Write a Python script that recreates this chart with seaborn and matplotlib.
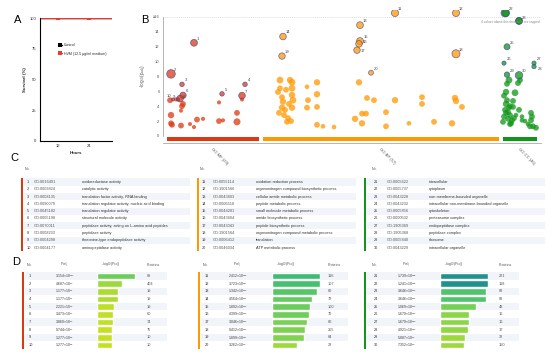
import numpy as np
import pandas as pd
import seaborn as sns
import matplotlib.pyplot as plt
from matplotlib.patches import Rectangle

sns.set_style("white")
plt.rcParams["font.family"] = ["Liberation Sans", "DejaVu Sans"]
plt.rcParams["mathtext.fontset"] = "custom"
plt.rcParams["mathtext.rm"] = "Liberation Sans"
plt.rcParams["mathtext.default"] = "regular"

W, H = 550, 355

# ---------------- data ----------------
# A: survival
hours = [0, 12, 24, 36]
control = [100, 100, 100, 100]
hvm = [100, 100, 100, 100]

# B: sources
sources = ["GO:MF", "GO:BP", "GO:CC"]
source_counts = [29, 57, 46]
source_colors = ["#dc3912", "#ff9900", "#109618"]
source_start = [4, 100, 340]
source_end = [96, 336, 374]

# highlighted terms (No. 1-30), x position on the manhattan axis
mf_hit_x = [31, 8, 19, 82, 59, 20, 79, 17, 15, 10]
bp_hit_x = [232, 293, 197, 120, 197, 196, 194, 293, 119, 208]
cc_hit_x = [342, 343, 356, 356, 344, 341, 371, 371, 344, 356]

# other terms: x, -log10(padj), term size
mf_x = [7, 8, 8, 19, 18, 18, 27, 31, 34, 40, 56, 56, 60, 74, 74, 79, 13, 20, 9]
mf_val = [4.8, 2.8, 1.7, 4.0, 3.4, 1.4, 1.6, 1.2, 2.2, 2.3, 4.5, 2.0, 2.1, 3.1, 1.9, 4.9, 4.9, 4.3, 1.5]
mf_n = [40, 60, 40, 40, 15, 40, 15, 15, 40, 15, 15, 40, 15, 40, 100, 15, 15, 40, 40]

bp_x = [117, 117, 127, 129, 129, 129, 130, 119, 120, 119, 122, 121, 129, 128, 144, 145, 144,
        154, 154, 154, 154, 160, 171, 196, 204, 211, 192, 199, 203, 199, 223, 223, 232, 246,
        259, 259, 271, 289, 292, 293, 299, 115, 123, 125, 116, 126, 124]
bp_val = [7.5, 6.4, 7.5, 7.2, 6.4, 5.5, 4.8, 5.2, 4.6, 3.8, 3.5, 2.8, 3.8, 2.0, 6.6, 4.8, 3.8,
          7.2, 5.6, 3.9, 1.5, 1.3, 1.2, 7.2, 5.1, 4.8, 2.3, 3.0, 3.0, 1.7, 3.2, 1.3, 4.8, 1.7,
          5.2, 4.3, 1.9, 1.7, 5.1, 4.7, 3.9, 5.9, 6.2, 2.4, 3.1, 4.3, 1.9]
bp_n = [80, 40, 60, 80, 80, 60, 80, 40, 60, 60, 40, 40, 60, 40, 20, 40, 40,
        60, 60, 40, 40, 20, 20, 60, 40, 40, 60, 40, 40, 60, 40, 40, 60, 20,
        40, 40, 40, 60, 60, 60, 40, 40, 40, 40, 40, 40, 40]

cc_x = [346, 344, 343, 352, 343, 347, 350, 342, 345, 347, 341, 345, 349, 351, 348, 353, 359,
        362, 368, 369, 368, 370, 365, 344, 346, 357, 355, 340, 347, 359, 367, 343, 356, 350,
        341, 373]
cc_val = [7.5, 7.0, 5.9, 5.8, 4.3, 4.0, 3.9, 3.5, 3.2, 2.8, 2.6, 2.3, 2.1, 2.4, 1.7, 2.8, 2.6,
          2.0, 3.1, 2.6, 2.1, 1.3, 1.6, 4.8, 3.8, 7.5, 7.1, 1.9, 1.6, 2.1, 1.3, 3.1, 3.5, 4.7,
          5.4, 1.1]
cc_n = [80, 40, 60, 80, 60, 40, 40, 40, 40, 40, 40, 40, 40, 40, 40, 20, 20,
        20, 40, 40, 40, 40, 20, 40, 40, 40, 40, 40, 40, 20, 40, 40, 40, 40,
        40, 40]

# C / D tables
nums1 = list(range(1, 11))
nums2 = list(range(11, 21))
nums3 = list(range(21, 31))
ids1 = ["GO:0016491", "GO:0003824", "GO:0008135", "GO:0090079", "GO:0045182",
        "GO:0005198", "GO:0070011", "GO:0008233", "GO:0004298", "GO:0004177"]
names1 = ["oxidoreductase activity", "catalytic activity",
          "translation factor activity, RNA binding",
          "translation regulator activity, nucleic acid binding",
          "translation regulator activity", "structural molecule activity",
          "peptidase activity, acting on L-amino acid peptides", "peptidase activity",
          "threonine-type endopeptidase activity", "aminopeptidase activity"]
ids2 = ["GO:0055114", "GO:1901566", "GO:0043603", "GO:0006518", "GO:0044281",
        "GO:0043604", "GO:0043043", "GO:1901564", "GO:0006412", "GO:0046034"]
names2 = ["oxidation-reduction process", "organonitrogen compound biosynthetic process",
          "cellular amide metabolic process", "peptide metabolic process",
          "small molecule metabolic process", "amide biosynthetic process",
          "peptide biosynthetic process", "organonitrogen compound metabolic process",
          "translation", "ATP metabolic process"]
ids3 = ["GO:0005622", "GO:0005737", "GO:0043228", "GO:0043232", "GO:0005856",
        "GO:0000502", "GO:1905369", "GO:1905368", "GO:0005840", "GO:0043229"]
names3 = ["intracellular", "cytoplasm", "non-membrane-bounded organelle",
          "intracellular non-membrane-bounded organelle", "cytoskeleton",
          "proteasome complex", "endopeptidase complex", "peptidase complex",
          "ribosome", "intracellular organelle"]
padj1 = [3.154e-13, 4.687e-9, 1.177e-7, 1.177e-7, 2.221e-6,
         3.473e-6, 3.860e-6, 9.744e-6, 1.277e-5, 1.277e-5]
padj2 = [2.412e-18, 3.723e-17, 1.342e-15, 4.564e-14, 1.892e-13,
         4.399e-13, 3.046e-12, 9.412e-12, 1.899e-11, 3.262e-9]
padj3 = [1.739e-28, 1.241e-28, 3.646e-16, 3.646e-16, 1.069e-12,
         1.679e-10, 1.679e-10, 4.921e-10, 5.887e-9, 7.352e-9]
prot1 = [89, 404, 19, 19, 19, 60, 74, 75, 10, 10]
prot2 = [116, 107, 80, 72, 100, 70, 66, 255, 64, 23]
prot3 = [221, 118, 83, 83, 48, 16, 16, 17, 32, 150]

CAP = 16

# ---------------- figure ----------------
fig = plt.figure(figsize=(5.5, 3.55), dpi=100)


def axes_px(x0, y0, x1, y1):
    return fig.add_axes([x0 / W, 1 - y1 / H, (x1 - x0) / W, (y1 - y0) / H])


def ftext(x, y, s, **kw):
    kw.setdefault("fontsize", 2.8)
    kw.setdefault("color", "#333333")
    kw.setdefault("va", "center")
    fig.text(x / W, 1 - y / H, s, **kw)


def frect(x0, y0, x1, y1, color):
    fig.patches.append(Rectangle((x0 / W, 1 - y1 / H), (x1 - x0) / W, (y1 - y0) / H,
                                 transform=fig.transFigure, color=color, lw=0, zorder=-1))


# panel letters
for lab, (x, y) in zip("ABCD", [(14, 20), (141, 20), (10, 158), (12, 262)]):
    ftext(x, y, lab, fontsize=8, color="black")

# ---- A
axA = axes_px(40, 18, 112, 141)
sns.lineplot(x=hours, y=control, color="black", marker="s", markersize=2.5, lw=1,
             markeredgewidth=0, label="Control", ax=axA)
sns.lineplot(x=hours, y=hvm, color="#ec3a2f", marker="s", markersize=2.5, lw=1,
             markeredgewidth=0, label="HVM (12.5 μg/ml medium)", ax=axA)
axA.set_xlim(5, 33)
axA.set_ylim(0, 100)
axA.set_xticks([12, 24])
axA.set_yticks([0, 25, 50, 75, 100])
axA.tick_params(labelsize=3, length=1.5, width=0.6, pad=1)
for s in ["top", "right"]:
    axA.spines[s].set_visible(False)
for s in ["left", "bottom"]:
    axA.spines[s].set_linewidth(0.8)
    axA.spines[s].set_color("black")
axA.set_ylabel("Survival (%)", fontsize=3.2, fontweight="bold", labelpad=2)
axA.set_xlabel("Hours", fontsize=3.2, fontweight="bold", labelpad=2)
axA.legend(loc="upper left", bbox_to_anchor=(0.2, 0.82), fontsize=2.6, frameon=False,
           handlelength=1.2, handletextpad=0.6, labelspacing=1.2)

# ---- B
rows = []
for src, hx, pv, pr, nums, ox, ov, on in [
        ("GO:MF", mf_hit_x, padj1, prot1, nums1, mf_x, mf_val, mf_n),
        ("GO:BP", bp_hit_x, padj2, prot2, nums2, bp_x, bp_val, bp_n),
        ("GO:CC", cc_hit_x, padj3, prot3, nums3, cc_x, cc_val, cc_n)]:
    for x, p, n, k in zip(hx, pv, pr, nums):
        rows.append(dict(source=src, x=x, val=-np.log10(p), n=n, hit=True, no=k))
    for x, v, n in zip(ox, ov, on):
        rows.append(dict(source=src, x=x, val=v, n=n, hit=False, no=0))
df = pd.DataFrame(rows)
df["plot_val"] = np.where(df["val"] > CAP, CAP + 0.5, df["val"])
df["logn"] = np.log10(df["n"])
pal = dict(zip(sources, source_colors))

axB = axes_px(163, 10, 541, 142.7)
common = dict(x="x", y="plot_val", hue="source", palette=pal, size="logn",
              sizes=(5, 40), size_norm=(1, 2.7), legend=False, ax=axB, alpha=0.75)
sns.scatterplot(data=df[~df.hit], linewidth=0, **common)
sns.scatterplot(data=df[df.hit], edgecolor="#3b3f9a", linewidth=0.5, zorder=3, **common)
# label offsets (points) where labels crowd each other
label_off = {15: (2.5, 2.5), 16: (3.0, 0.5), 17: (3.0, -1.5), 27: (2.0, 2.0), 28: (2.5, -2.5),
             8: (2.0, 0.5), 9: (-3.5, 1.0), 10: (-4.5, 1.5), 23: (2.0, 1.5)}
for _, r in df[df.hit].iterrows():
    if r["no"] in (21, 24):
        continue
    axB.annotate(str(r["no"]), (r["x"], r["plot_val"]), xytext=label_off.get(r["no"], (1.8, 2.2)),
                 textcoords="offset points", fontsize=3.0, color="#444444", zorder=4)

widths = [e - s for s, e in zip(source_start, source_end)]
axB.bar(source_start, height=0.6, width=widths, bottom=-0.72,
        align="edge", color=source_colors, linewidth=0)
axB.axhline(CAP, color="#cccccc", lw=0.4, ls=(0, (2, 1.5)))
axB.text(377, CAP - 0.4, "4 values above this threshold are capped", fontsize=2.3,
         color="#888888", ha="right", va="top")
axB.set_xlim(0, 378)
axB.set_ylim(-0.9, 16.9)
yt = list(range(0, CAP + 1, 2))
axB.set_yticks(yt)
axB.set_yticklabels([str(v) for v in yt[:-1]] + ["≥16"])
centers = [(s + e) / 2 for s, e in zip(source_start, source_end)]
axB.set_xticks(centers)
axB.set_xticklabels([f"{s} ({c})" for s, c in zip(sources, source_counts)],
                    rotation=-45, ha="left", rotation_mode="anchor")
axB.tick_params(axis="y", labelsize=3, length=1.5, width=0.4, pad=1, colors="#555555")
axB.tick_params(axis="x", labelsize=3, length=0, pad=3, colors="#555555")
for s in ["top", "right"]:
    axB.spines[s].set_visible(False)
axB.spines["left"].set_bounds(0, CAP)
for s in ["left", "bottom"]:
    axB.spines[s].set_linewidth(0.5)
    axB.spines[s].set_color("#999999")
axB.set_xlabel("")
axB.set_ylabel("-log$_{10}$(p$_{adj}$)", fontsize=3.3, color="#555555", labelpad=3)


# ---- C
def sci(p):
    m, e = f"{p:.3e}".split("e")
    return f"{m}×10$^{{{int(e)}}}$"


c_layout = [(21, 27, 34, 82, 190), (197, 202, 213, 256, 356), (364, 374, 387, 429, 545)]
for (bx, nx, ix, tx, xe), col, nums, ids, names in zip(
        c_layout, source_colors, [nums1, nums2, nums3], [ids1, ids2, ids3],
        [names1, names2, names3]):
    ftext(nx - 2, 169, "No.", fontsize=2.6, color="#555555")
    frect(bx, 178, bx + 2, 251, col)
    for i, (k, gid, nm) in enumerate(zip(nums, ids, names)):
        y = 182 + 7.3 * i
        if i % 2 == 0:
            frect(bx + 3, y - 3.65, xe, y + 3.65, "#f1f4f8")
        ftext(nx, y, str(k))
        ftext(ix, y, gid, color="#555555")
        ftext(tx, y, nm)

# ---- D
d_layout = [(22, 29, 55, 97, 147), (198, 205, 228, 272, 328), (364, 374, 397, 440, 499)]
for (bx, nx, pxx, bar0, prx), col, nums, pv, pr in zip(
        d_layout, source_colors, [nums1, nums2, nums3], [padj1, padj2, padj3],
        [prot1, prot2, prot3]):
    ftext(nx - 2, 265, "No.", fontsize=2.6, color="#555555")
    ftext(pxx + 9, 265, "P$_{adj}$", fontsize=2.6, color="#555555", ha="center")
    ftext(bar0 + 14, 265, "-log$_{10}$(P$_{adj}$)", fontsize=2.6, color="#555555", ha="center")
    ftext(prx + 6, 265, "Proteins", fontsize=2.6, color="#555555", ha="center")
    frect(bx, 272, bx + 2, 349, col)
    for i, (k, p, n) in enumerate(zip(nums, pv, pr)):
        y = 276 + 7.67 * i
        if i % 2 == 0:
            frect(bx + 3, y - 3.8, prx + 20, y + 3.8, "#f1f4f8")
        ftext(nx, y, str(k))
        ftext(pxx, y + 0.4, sci(p), fontsize=2.4)
        ftext(prx, y, str(n), color="#555555")
    vals = [-np.log10(p) for p in pv]
    dd = pd.DataFrame({"no": [str(k) for k in nums],
                       "v": [min(v, CAP) for v in vals]})
    cols = {str(k): plt.cm.viridis(1 - v / 56) for k, v in zip(nums, vals)}
    ax = axes_px(bar0, 276 - 3.835, bar0 + 48, 276 + 9 * 7.67 + 3.835)
    sns.barplot(data=dd, x="v", y="no", hue="no", palette=cols, legend=False,
                saturation=1, width=0.85, orient="h", ax=ax)
    ax.set_xlim(0, CAP)
    ax.set_ylim(9.5, -0.5)
    ax.axis("off")

fig.savefig("out.png", dpi=100)
